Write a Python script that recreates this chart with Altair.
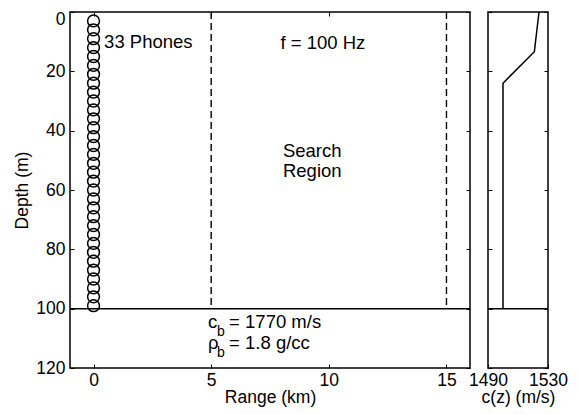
import altair as alt
import pandas as pd

FONT = "Liberation Sans"

# ---------------- data ----------------
phone_depth = [3, 6, 9, 12, 15, 18, 21, 24, 27, 30, 33, 36, 39, 42, 45, 48, 51,
               54, 57, 60, 63, 66, 69, 72, 75, 78, 81, 84, 87, 90, 93, 96, 99]
phone_range = [0.0] * len(phone_depth)

search_range = [5, 15]
search_top = [0, 0]
search_bottom = [100, 100]

seafloor_depth = [100]

ssp_depth = [0, 13.4, 24, 100]
ssp_speed = [1524, 1520.9, 1500, 1500]

x_ticks = [0, 5, 10, 15]
y_ticks = [0, 20, 40, 60, 80, 100, 120]
ssp_ticks = [1490, 1530]

ann_text = ["33 Phones", "Search", "Region"]
ann_range = [0.45, 8.05, 8.05]
ann_depth = [10.0, 46.7, 53.7]

freq_text = ["f = 100 Hz"]
freq_range = [9.75]
freq_depth = [10.3]

bottom_main = ["c", "ρ"]
bottom_rest = ["= 1770 m/s", "= 1.8 g/cc"]
bottom_range = [4.87, 4.87]
bottom_depth = [106.5, 113.5]

# ---------------- tables ----------------
df_ph = pd.DataFrame({"range": phone_range, "depth": phone_depth})
df_sr = pd.DataFrame({"range": search_range, "top": search_top, "bottom": search_bottom})
df_fl = pd.DataFrame({"depth": seafloor_depth})
df_ssp = pd.DataFrame({"speed": ssp_speed, "depth": ssp_depth})
df_ann = pd.DataFrame({"text": ann_text, "range": ann_range, "depth": ann_depth})
df_freq = pd.DataFrame({"text": freq_text, "range": freq_range, "depth": freq_depth})
df_bot = pd.DataFrame({"main": bottom_main, "rest": bottom_rest, "sub": ["b", "b"],
                       "range": bottom_range, "depth": bottom_depth})

xs = alt.Scale(domain=[-1, 16], nice=False, zero=False)
ys = alt.Scale(domain=[0, 120], nice=False, zero=False, reverse=True)
ss = alt.Scale(domain=[1490, 1530], nice=False, zero=False)

TICK = 4
W, H = 400, 356

left_y_axis = alt.Axis(orient="left", values=y_ticks, offset=-TICK, tickSize=TICK,
                       labelPadding=5, title="Depth (m)", titlePadding=4, labelFlush=False,
                       labelBaseline={"condition": {"test": "datum.value == 0", "value": "top"},
                                      "value": "middle"},
                       labelOffset={"condition": {"test": "datum.value == 0", "value": -2},
                                    "value": 0})
right_y_axis = alt.Axis(orient="right", values=y_ticks, offset=-TICK, tickSize=TICK,
                        labels=False, title=None)
bottom_x_axis = alt.Axis(orient="bottom", values=x_ticks, offset=-TICK, tickSize=TICK,
                         labelPadding=3, title="Range (km)", titlePadding=0, format="d",
                         labelFlush=False)
top_x_axis = alt.Axis(orient="top", values=x_ticks, offset=-TICK, tickSize=TICK,
                      labels=False, title=None)

phones = alt.Chart(df_ph).mark_point(shape="circle", filled=False, color="black",
                                     size=140, strokeWidth=1.5, opacity=1).encode(
    x=alt.X("range:Q", scale=xs, axis=bottom_x_axis),
    y=alt.Y("depth:Q", scale=ys, axis=left_y_axis),
)

search = alt.Chart(df_sr).mark_rule(color="black", strokeWidth=1.4, strokeDash=[7, 4]).encode(
    x=alt.X("range:Q", scale=xs, axis=top_x_axis),
    y=alt.Y("top:Q", scale=ys, axis=None),
    y2="bottom:Q",
)

floor_left = alt.Chart(df_fl).mark_rule(color="black", strokeWidth=1.5).encode(
    y=alt.Y("depth:Q", scale=ys, axis=right_y_axis),
)

ann = alt.Chart(df_ann).mark_text(font=FONT, fontSize=18.5, baseline="middle", align="left",
                                  color="black").encode(
    x=alt.X("range:Q", scale=xs, axis=None),
    y=alt.Y("depth:Q", scale=ys, axis=None),
    text="text:N",
)
freq = alt.Chart(df_freq).mark_text(font=FONT, fontSize=18.5, baseline="middle", align="center",
                                    color="black").encode(
    x=alt.X("range:Q", scale=xs, axis=None),
    y=alt.Y("depth:Q", scale=ys, axis=None),
    text="text:N",
)

bot_main = alt.Chart(df_bot).mark_text(font=FONT, fontSize=18.5, align="left",
                                       baseline="alphabetic", color="black").encode(
    x=alt.X("range:Q", scale=xs, axis=None),
    y=alt.Y("depth:Q", scale=ys, axis=None),
    text="main:N",
)
bot_sub = alt.Chart(df_bot).mark_text(font=FONT, fontSize=14, align="left", dx=9, dy=8,
                                      baseline="alphabetic", color="black").encode(
    x=alt.X("range:Q", scale=xs, axis=None),
    y=alt.Y("depth:Q", scale=ys, axis=None),
    text="sub:N",
)
bot_rest = alt.Chart(df_bot).mark_text(font=FONT, fontSize=18.5, align="left", dx=21,
                                       baseline="alphabetic", color="black").encode(
    x=alt.X("range:Q", scale=xs, axis=None),
    y=alt.Y("depth:Q", scale=ys, axis=None),
    text="rest:N",
)

left = alt.layer(phones, search, floor_left, ann, freq, bot_main, bot_sub, bot_rest).resolve_axis(
    x="independent", y="independent").properties(width=W, height=H)

ssp = alt.Chart(df_ssp).mark_line(color="black", strokeWidth=1.5).encode(
    x=alt.X("speed:Q", scale=ss,
            axis=alt.Axis(orient="bottom", values=ssp_ticks, offset=-TICK, tickSize=TICK,
                          labelPadding=3, title="c(z) (m/s)", titlePadding=0, format="d",
                          labelFlush=False)),
    y=alt.Y("depth:Q", scale=ys,
            axis=alt.Axis(orient="left", values=y_ticks, offset=-TICK, tickSize=TICK,
                          labels=False, title=None)),
    order=alt.Order("depth:Q"),
)
floor_right = alt.Chart(df_fl).mark_rule(color="black", strokeWidth=1.5).encode(
    y=alt.Y("depth:Q", scale=ys, axis=right_y_axis),
)
right = alt.layer(ssp, floor_right).resolve_axis(x="independent", y="independent").properties(
    width=60, height=H)

chart = alt.hconcat(left, right, spacing=18, bounds="flush").properties(
    padding={"left": 5, "top": 0, "right": 0, "bottom": 0}
).configure_view(stroke="black", strokeWidth=1.5).configure_axis(
    grid=False, domain=False, tickColor="black", tickWidth=1,
    labelFont=FONT, labelFontSize=17.5, labelColor="black",
    titleFont=FONT, titleFontSize=17.5, titleColor="black", titleFontWeight="normal",
).configure_text(font=FONT)

chart.save("out.html", embed_options={"renderer": "svg", "actions": False})
